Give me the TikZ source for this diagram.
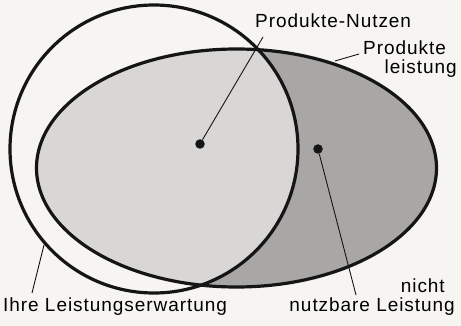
\documentclass[tikz,border=0pt]{standalone}
\usepackage{fontspec}
\setmainfont{Liberation Sans}[LetterSpace=5]
\usetikzlibrary{positioning, calc}
\definecolor{paper}{HTML}{F6F5F2}
\definecolor{overlapgray}{HTML}{D8D7D6}
\definecolor{wastegray}{HTML}{A8A7A6}
\definecolor{outline}{HTML}{151515}

\begin{document}
\begin{tikzpicture}[
      x=1pt, y=-1pt,
      label/.style={font=\fontsize{19}{20}\selectfont, inner sep=0pt},
      pin/.style={circle, fill=outline, inner sep=0pt, minimum size=9.5pt},
      rim/.style={draw=outline, line width=3.2pt},
      leader/.style={draw=outline, line width=0.9pt}
    ]
      \fill[paper] (0,0) rectangle (461,326);
      \useasboundingbox (0,0) rectangle (461,326);

      % Produkt-Leistung und Erwartung
      \fill[wastegray] (236.5,168) ellipse [x radius=200, y radius=119];
      \begin{scope}
        \clip (154,149) circle [radius=144];
        \fill[overlapgray] (236.5,168) ellipse [x radius=200, y radius=119];
      \end{scope}
      \draw[rim] (154,149) circle [radius=144];
      \draw[rim] (236.5,168) ellipse [x radius=200, y radius=119];

      \node[pin] (nutzen) at (200,144) {};
      \node[pin] (rest) at (318,149) {};
      \coordinate (leistungrand) at (335,61);
      \coordinate (erwartungrand) at (44,245);

      \node[label, anchor=base west] (nutzenlbl) at (255,28) {Produkte-Nutzen};
      \node[label, anchor=base west] (leistunglbl) at (363,55) {Produkte};
      \node[label, anchor=base east] (leistunglblb) at (457,74) {leistung};
      \node[label, anchor=base west] (erwartunglbl) at (3,311) {Ihre Leistungserwartung};
      \node[label, anchor=base east] (restlbl) at (445,292) {nicht};
      \node[label, anchor=base east] (restlblb) at (455,311) {nutzbare Leistung};

      \coordinate (nutzenend) at (263,37);
      \coordinate (leistungend) at (359,54);
      \coordinate (erwartungend) at (32,293);
      \coordinate (restend) at (356,295);

      \draw[leader] (nutzen) -- (nutzenend);
      \draw[leader] (leistungrand) -- (leistungend);
      \draw[leader] (erwartungrand) -- (erwartungend);
      \draw[leader] (rest) -- (restend);
    \end{tikzpicture}
\end{document}
